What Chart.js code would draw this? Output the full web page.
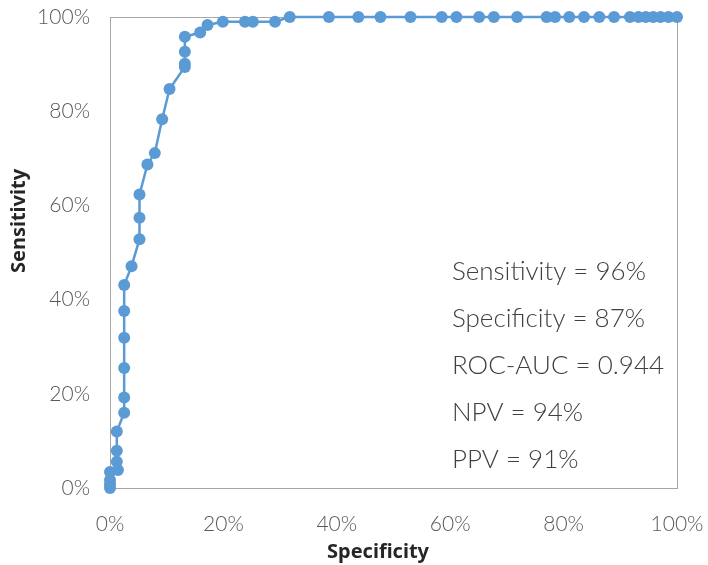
<!DOCTYPE html>
<html>
<head>
<meta charset="utf-8">
<script src="https://cdn.jsdelivr.net/npm/chart.js@4"></script>
<style>
  html, body { margin: 0; padding: 0; background: #fff; }
  #wrap { width: 708px; height: 565px; }
</style>
</head>
<body>
<div id="wrap"><canvas id="rocChart"></canvas></div>
<script>
// Datos de la curva ROC
const specificity = [0, 0, 0, 0, 1.4, 1.2, 1.2, 1.2, 2.5, 2.5, 2.5, 2.5, 2.5, 2.5, 3.8, 5.2, 5.2, 5.2, 6.6, 7.9, 9.2, 10.5,
    13.2, 13.2, 13.2, 13.2, 15.9, 17.2, 19.9, 23.8, 25.2, 29.1, 31.7, 38.6, 43.8, 47.7, 53.0, 58.5, 61.1, 65.1, 67.7,
    71.8, 77.0, 78.5, 81.0, 83.6, 86.3, 88.9, 91.7, 93.2, 94.5, 95.8, 97.1, 98.5, 100];
const sensitivity = [0, 0.8, 1.7, 3.4, 3.8, 5.6, 7.9, 12.0, 16.0, 19.2, 25.5, 31.9, 37.6, 43.1, 47.1, 52.8, 57.4, 62.3, 68.7, 71.1, 78.3, 84.7,
    89.4, 90.1, 92.6, 95.8, 96.7, 98.3, 99.0, 99.0, 99.0, 99.0, 100, 100, 100, 100, 100, 100, 100, 100, 100,
    100, 100, 100, 100, 100, 100, 100, 100, 100, 100, 100, 100, 100, 100];
const tickValues = [0, 20, 40, 60, 80, 100];
const statLines = ['Sensitivity = 96%', 'Specificity = 87%', 'ROC-AUC = 0.944', 'NPV = 94%', 'PPV = 91%'];
const statYValues = [46, 36, 26, 16, 6]; // posición vertical de cada línea (en % del eje Y)
const xTitle = 'Specificity';
const yTitle = 'Sensitivity';

const points = specificity.map((x, i) => ({ x: x, y: sensitivity[i] }));

// Plugin: marco del área, textos de estadísticas y títulos de ejes
const extras = {
    id: 'extras',
    beforeDatasetsDraw(chart) {
        const { ctx, chartArea: a } = chart;
        ctx.save();
        ctx.strokeStyle = '#a6a6a6';
        ctx.lineWidth = 1;
        ctx.strokeRect(a.left + 0.5, a.top + 0.5, a.right - a.left, a.bottom - a.top);
        ctx.restore();
    },
    afterDraw(chart) {
        const { ctx } = chart;
        const xs = chart.scales.x, ys = chart.scales.y;
        ctx.save();
        ctx.fillStyle = '#404040';
        ctx.font = '300 26px Lato, "Noto Sans", sans-serif';
        ctx.textBaseline = 'middle';
        ctx.textAlign = 'left';
        statLines.forEach((t, i) => {
            ctx.fillText(t, xs.getPixelForValue(60.3), ys.getPixelForValue(statYValues[i]));
        });
        // títulos de ejes
        ctx.fillStyle = '#262626';
        ctx.font = 'bold 20px "Noto Sans", Lato, sans-serif';
        ctx.textAlign = 'center';
        ctx.fillText(xTitle, 378, 552);
        ctx.translate(19, 221);
        ctx.rotate(-Math.PI / 2);
        ctx.fillText(yTitle, 0, 0);
        ctx.restore();
    }
};

const ctx = document.getElementById('rocChart').getContext('2d');
const rocChart = new Chart(ctx, {
    type: 'line',
    data: {
        datasets: [{
            data: points,
            borderColor: '#5b9bd5',
            backgroundColor: '#5b9bd5',
            borderWidth: 2.5,
            pointRadius: 6,
            pointHoverRadius: 6,
            pointBorderWidth: 0,
            tension: 0,
            clip: false
        }]
    },
    options: {
        responsive: true,
        maintainAspectRatio: false,
        animation: false,
        layout: { padding: { top: 17, right: 31, left: 0, bottom: 0 } },
        plugins: { legend: { display: false }, tooltip: { enabled: false } },
        scales: {
            x: {
                type: 'linear',
                min: 0, max: 100,
                afterFit: s => { s.height = 77; s.paddingLeft = 0; s.paddingRight = 0; },
                afterBuildTicks: s => { s.ticks = tickValues.map(v => ({ value: v })); },
                grid: { display: false },
                border: { display: false },
                ticks: {
                    padding: 16,
                    color: '#595959',
                    font: { family: 'Lato, "Noto Sans", sans-serif', size: 21, weight: 300 },
                    callback: v => v + '%'
                }
            },
            y: {
                type: 'linear',
                min: 0, max: 100,
                afterFit: s => { s.width = 110; s.paddingTop = 0; s.paddingBottom = 0; },
                afterBuildTicks: s => { s.ticks = tickValues.map(v => ({ value: v })); },
                grid: { display: false },
                border: { display: false },
                ticks: {
                    padding: 12,
                    color: '#595959',
                    font: { family: 'Lato, "Noto Sans", sans-serif', size: 21, weight: 300 },
                    callback: v => v + '%'
                }
            }
        }
    },
    plugins: [extras]
});
</script>
</body>
</html>
